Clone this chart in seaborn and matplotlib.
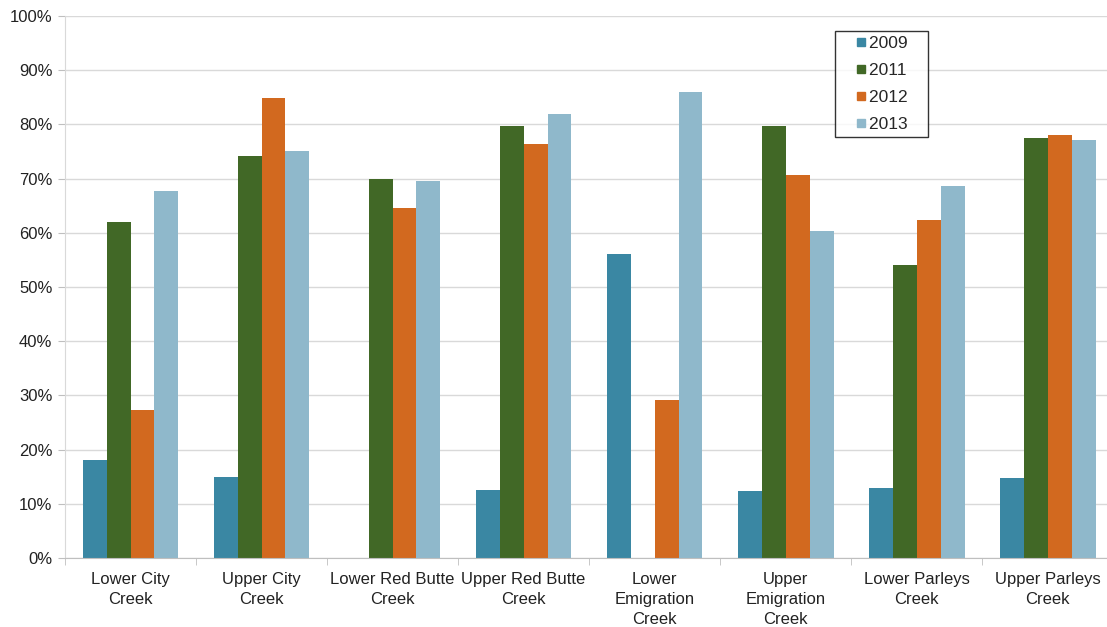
import numpy as np
import pandas as pd
import matplotlib
matplotlib.use("Agg")
import matplotlib.pyplot as plt
import seaborn as sns
from matplotlib.ticker import PercentFormatter, FixedLocator
from matplotlib.lines import Line2D

categories = ["Lower City\nCreek", "Upper City\nCreek", "Lower Red Butte\nCreek", "Upper Red Butte\nCreek",
              "Lower\nEmigration\nCreek", "Upper\nEmigration\nCreek", "Lower Parleys\nCreek", "Upper Parleys\nCreek"]
years = ["2009", "2011", "2012", "2013"]
v2009 = [18.0, 15.0, np.nan, 12.5, 56.0, 12.3, 13.0, 14.8]
v2011 = [62.0, 74.2, 70.0, 79.7, np.nan, 79.7, 54.0, 77.5]
v2012 = [27.3, 84.8, 64.5, 76.4, 29.2, 70.7, 62.3, 78.0]
v2013 = [67.8, 75.0, 69.6, 82.0, 86.0, 60.3, 68.6, 77.2]
colors = ["#3A87A3", "#416826", "#D2691F", "#8FB8CB"]

rows = []
for y, vals in zip(years, [v2009, v2011, v2012, v2013]):
    for c, v in zip(categories, vals):
        rows.append({"cat": c, "year": y, "val": v})
df = pd.DataFrame(rows)

sns.set_style("white")
plt.rcParams["font.family"] = ["Liberation Sans", "DejaVu Sans"]

fig = plt.figure(figsize=(11.07, 6.27), dpi=100)
ax = fig.add_axes([0.0587, 0.11, 0.947, 0.8645])
sns.barplot(data=df, x="cat", y="val", hue="year", hue_order=years, order=categories,
            palette=colors, width=0.73, gap=0, ax=ax, saturation=1, legend=False,
            linewidth=0, edgecolor="none")

ax.set_ylim(0, 100)
ax.set_xlim(-0.5, 7.5)
ax.yaxis.set_major_locator(FixedLocator(np.arange(0, 101, 10)))
ax.yaxis.set_major_formatter(PercentFormatter(decimals=0))
ax.grid(axis="y", color="#D9D9D9", linewidth=1)
ax.set_axisbelow(True)
for s in ["top", "right"]:
    ax.spines[s].set_visible(False)
ax.spines["left"].set_color("#D9D9D9")
ax.spines["bottom"].set_color("#BFBFBF")
ax.set_xlabel("")
ax.set_ylabel("")
ax.tick_params(axis="y", length=5, color="#BFBFBF", labelsize=12, labelcolor="#222222", pad=4, left=True)
ax.tick_params(axis="x", length=0, labelsize=12, labelcolor="#222222", pad=10)
for lbl in ax.get_xticklabels():
    lbl.set_linespacing(1.42)
ax.set_xticks(np.arange(-0.5, 7.6, 1), minor=True)
ax.tick_params(axis="x", which="minor", length=5, color="#BFBFBF", bottom=True)

handles = [Line2D([], [], marker="s", linestyle="", markersize=5.8, color=c) for c in colors]
leg = ax.legend(handles, [y + "   " for y in years], loc="upper left", bbox_to_anchor=(0.7347, 0.973),
                frameon=True, fancybox=False, edgecolor="black", fontsize=12.5,
                handlelength=2.4, handletextpad=-0.75, labelspacing=0.68, borderpad=0.3,
                borderaxespad=0)
leg.get_frame().set_linewidth(1)

fig.savefig("out.png", dpi=100)
